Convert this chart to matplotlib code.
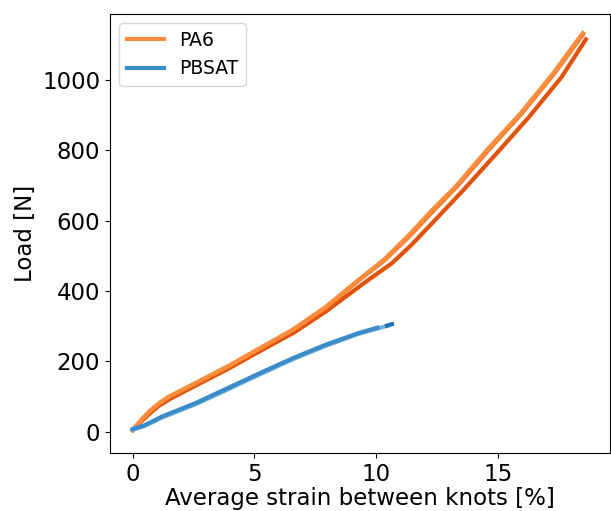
import matplotlib
matplotlib.use("Agg")
import matplotlib.pyplot as plt

# PA6 traces (strain %, load N)
pa6_a_strain = [0, 0.3, 0.68, 1.1, 1.49, 2.56, 3.90, 5.23, 6.57, 7.91, 9.25, 10.32, 11.39,
                12.3, 13.27, 14.61, 15.94, 17.28, 18.49]
pa6_a_load = [5, 30, 58, 82, 100, 138, 186, 238, 290, 354, 430, 489, 562,
              630, 697, 805, 905, 1019, 1133]
pa6_b_strain = [0, 0.3, 0.7, 1.1, 1.55, 2.6, 3.95, 5.3, 6.65, 8.0, 8.75, 9.65, 10.65, 11.45,
                12.4, 13.6, 14.95, 16.3, 17.62, 18.62]
pa6_b_load = [5, 26, 52, 75, 94, 132, 180, 232, 283, 345, 384, 430, 479, 531,
              600, 688, 791, 896, 1008, 1115]
pa6_c_strain = [0, 0.3, 0.68, 1.1, 1.5, 2.57, 3.91, 5.24, 6.58, 7.93, 9.28, 10.36, 11.43,
                12.34, 13.31, 14.65, 15.98, 17.32, 18.51]
pa6_c_load = [5, 29, 57, 81, 99, 137, 185, 237, 289, 352, 430, 488, 560,
              627, 696, 803, 904, 1018, 1130]

# PBSAT traces
pbsat_a_strain = [0, 0.5, 1.22, 2.56, 3.90, 5.23, 6.57, 7.91, 9.25, 10.05]
pbsat_a_load = [8, 19, 44, 81, 124, 167, 209, 247, 280, 296]
pbsat_b_strain = [0, 0.5, 1.25, 2.6, 3.95, 5.28, 6.6, 7.95, 9.3, 10.5]
pbsat_b_load = [6, 17, 42, 79, 122, 165, 207, 245, 279, 302]
pbsat_c_strain = [10.45, 10.65]
pbsat_c_load = [302, 306]

fig = plt.figure(figsize=(6.11, 5.11), dpi=100)
ax = fig.add_axes([0.18, 0.1135, 0.818, 0.859])

ax.plot(pa6_b_strain, pa6_b_load, color="#e2530a", lw=3)
ax.plot(pa6_c_strain, pa6_c_load, color="#f5782a", lw=3)
ax.plot(pa6_a_strain, pa6_a_load, color="#fd8d3c", lw=3, label="PA6")
ax.plot(pbsat_b_strain, pbsat_b_load, color="#72b0da", lw=3)
ax.plot(pbsat_a_strain, pbsat_a_load, color="#3a8cc8", lw=3, label="PBSAT")
ax.plot(pbsat_c_strain, pbsat_c_load, color="#2171b5", lw=3)

ax.set_xlim(-0.93, 19.6)
ax.set_ylim(-60, 1187)
ax.set_xticks([0, 5, 10, 15])
ax.set_yticks([0, 200, 400, 600, 800, 1000])
ax.tick_params(labelsize=16.5)
ax.set_xlabel("Average strain between knots [%]", fontsize=16.5, labelpad=1)
ax.set_ylabel("Load [N]", fontsize=16.5)
ax.legend(loc="upper left", fontsize=13.5)

fig.savefig("out.png", dpi=100)
